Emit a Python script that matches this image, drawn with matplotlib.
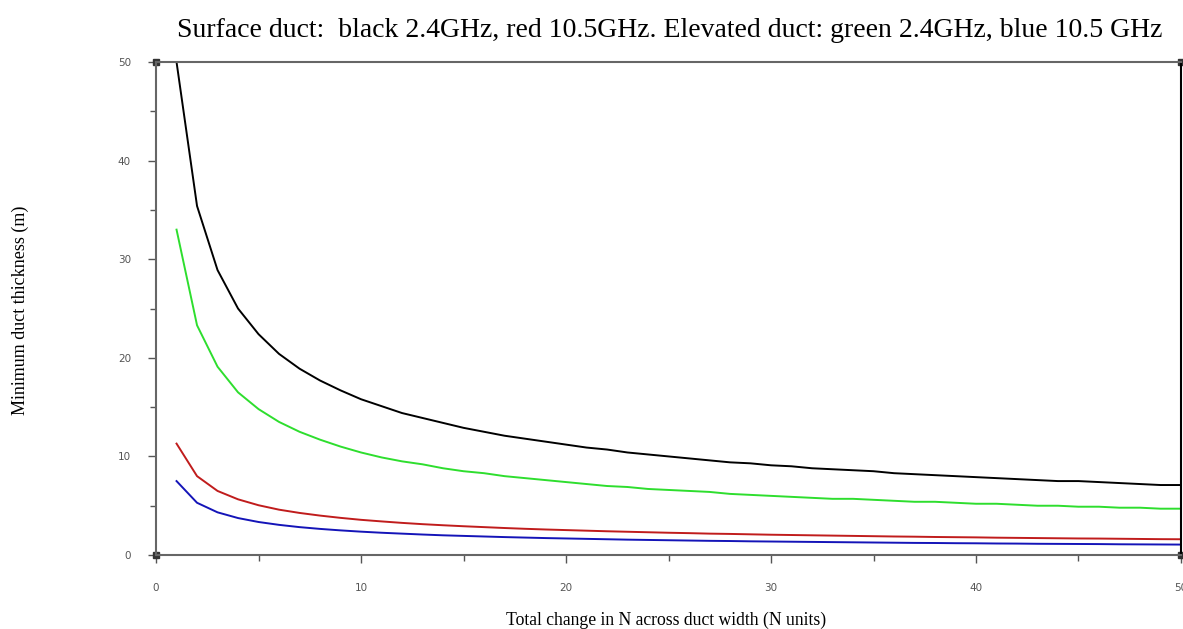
import matplotlib.pyplot as plt
from matplotlib.ticker import MultipleLocator

# total change in N (N units)
n_units = list(range(1, 51))

# surface duct, 2.4 GHz (black)
surface_24 = [50.0, 35.4, 28.9, 25.0, 22.4, 20.4, 18.9, 17.7, 16.7, 15.8,
              15.1, 14.4, 13.9, 13.4, 12.9, 12.5, 12.1, 11.8, 11.5, 11.2,
              10.9, 10.7, 10.4, 10.2, 10.0, 9.8, 9.6, 9.4, 9.3, 9.1,
              9.0, 8.8, 8.7, 8.6, 8.5, 8.3, 8.2, 8.1, 8.0, 7.9,
              7.8, 7.7, 7.6, 7.5, 7.5, 7.4, 7.3, 7.2, 7.1, 7.1]
# surface duct, 10.5 GHz (red)
surface_105 = [11.3, 8.0, 6.5, 5.65, 5.05, 4.6, 4.27, 4.0, 3.77, 3.57,
               3.41, 3.26, 3.13, 3.02, 2.92, 2.83, 2.74, 2.66, 2.59, 2.53,
               2.47, 2.41, 2.36, 2.31, 2.26, 2.22, 2.17, 2.14, 2.10, 2.06,
               2.03, 2.0, 1.97, 1.94, 1.91, 1.88, 1.86, 1.83, 1.81, 1.79,
               1.76, 1.74, 1.72, 1.70, 1.68, 1.67, 1.65, 1.63, 1.61, 1.60]
# elevated duct, 2.4 GHz (green)
elevated_24 = [33.0, 23.3, 19.1, 16.5, 14.8, 13.5, 12.5, 11.7, 11.0, 10.4,
               9.9, 9.5, 9.2, 8.8, 8.5, 8.3, 8.0, 7.8, 7.6, 7.4,
               7.2, 7.0, 6.9, 6.7, 6.6, 6.5, 6.4, 6.2, 6.1, 6.0,
               5.9, 5.8, 5.7, 5.7, 5.6, 5.5, 5.4, 5.4, 5.3, 5.2,
               5.2, 5.1, 5.0, 5.0, 4.9, 4.9, 4.8, 4.8, 4.7, 4.7]
# elevated duct, 10.5 GHz (blue)
elevated_105 = [7.5, 5.3, 4.33, 3.75, 3.35, 3.06, 2.83, 2.65, 2.5, 2.37,
                2.26, 2.17, 2.08, 2.0, 1.94, 1.88, 1.82, 1.77, 1.72, 1.68,
                1.64, 1.6, 1.56, 1.53, 1.5, 1.47, 1.44, 1.42, 1.39, 1.37,
                1.35, 1.33, 1.31, 1.29, 1.27, 1.25, 1.23, 1.22, 1.2, 1.19,
                1.17, 1.16, 1.14, 1.13, 1.12, 1.11, 1.09, 1.08, 1.07, 1.06]

serif = ['Liberation Serif', 'DejaVu Serif']

fig = plt.figure(figsize=(11.83, 6.29), dpi=100)
ax = fig.add_axes([0.1319, 0.1176, 0.8664, 0.7838])

ax.plot(n_units, surface_24, color='black', lw=1.4)
ax.plot(n_units, elevated_24, color='#2ede2e', lw=1.4)
ax.plot(n_units, surface_105, color='#c01c1c', lw=1.4)
ax.plot(n_units, elevated_105, color='#1414b8', lw=1.4)

ax.set_xlim(0, 50)
ax.set_ylim(0, 50)
ax.xaxis.set_major_locator(MultipleLocator(10))
ax.xaxis.set_minor_locator(MultipleLocator(5))
ax.yaxis.set_major_locator(MultipleLocator(10))
ax.yaxis.set_minor_locator(MultipleLocator(5))
ax.tick_params(which='major', length=6, width=1, color='#555555',
               labelsize=7.5, labelcolor='#555555')
ax.tick_params(which='minor', length=4, width=1, color='#555555')
ax.tick_params(axis='x', which='major', pad=14)
ax.tick_params(axis='y', which='major', pad=12)

for side in ['left', 'bottom', 'top']:
    ax.spines[side].set_color('#666666')
    ax.spines[side].set_linewidth(1.5)
ax.spines['right'].set_color('black')
ax.spines['right'].set_linewidth(1.5)

# small square handles at the corners
ax.plot([0, 0, 1, 1], [0, 1, 1, 0], transform=ax.transAxes, ls='none',
        marker='s', ms=4, color='#333333', clip_on=False)

fig.text(0.566, 0.951, 'Surface duct:  black 2.4GHz, red 10.5GHz. Elevated duct: green 2.4GHz, blue 10.5 GHz',
         ha='center', va='center', fontsize=20, family=serif)
fig.text(0.563, 0.013, 'Total change in N across duct width (N units)',
         ha='center', va='center', fontsize=12.7, family=serif)
fig.text(0.017, 0.507, 'Minimum duct thickness (m)', rotation=90,
         ha='center', va='center', fontsize=13, family=serif)

plt.savefig('out.png', dpi=100)
